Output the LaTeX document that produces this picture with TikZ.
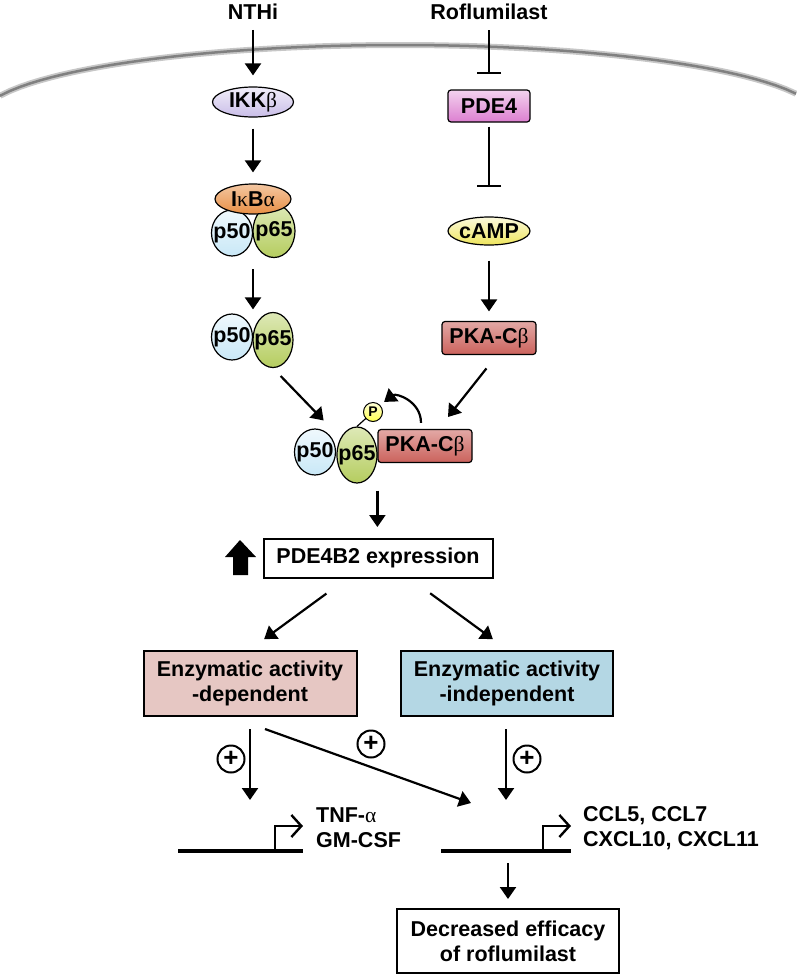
\documentclass[tikz,border=0pt]{standalone}
\usepackage{fontspec}
\setmainfont{Liberation Sans}
\newfontfamily\greekfont{Liberation Serif}
\usetikzlibrary{positioning, arrows.meta, shapes.geometric}
\newcommand{\gr}[1]{{\mdseries\greekfont #1}}
\definecolor{ikkcol}{HTML}{C9BDE8}
\definecolor{ikbcol}{HTML}{E88F45}
\definecolor{pfcol}{HTML}{C9E8F7}
\definecolor{pscol}{HTML}{B5CD5F}
\definecolor{pdecol}{HTML}{DC7FD0}
\definecolor{campcol}{HTML}{EEE55C}
\definecolor{pkacol}{HTML}{CB625C}
\definecolor{depcol}{HTML}{E6C7C3}
\definecolor{indepcol}{HTML}{B4D7E4}
\tikzset{tag/.style={inner sep=0pt},
  prot oval/.style={ellipse, draw, line width=1.2pt, inner sep=0pt},
  prot box/.style={rectangle, rounded corners=3pt, draw, line width=1.2pt, inner sep=0pt},
  plain box/.style={rectangle, draw, line width=2pt, inner sep=0pt, align=center},
  act/.style={-{Triangle[length=12pt,width=16pt]}, line width=2.2pt},
  inh/.style={-{Bar[width=24pt]}, line width=2.2pt},
  plus node/.style={circle, draw, line width=2pt, minimum size=27pt, inner sep=0pt, font=\fontsize{26}{26}\selectfont\bfseries},
  gene/.style={line width=4pt},
  prom/.style={-{Straight Barb[length=10pt,width=22pt]}, line width=2.4pt},}

\begin{document}
\begin{tikzpicture}[x=1pt, y=-1pt, font=\fontsize{21.5}{25}\selectfont\bfseries]
        \useasboundingbox (0,0) rectangle (796,975);
        % Membrane
        \draw[line width=6pt, black!22] plot[domain=-400:396, samples=80] ({400+\x}, {118-73*sqrt(1-(\x/420)^2)});
        \draw[line width=2.5pt, black!50] plot[domain=-400:396, samples=80] ({400+\x}, {118-73*sqrt(1-(\x/420)^2)});
        % Stimuli
        \node[tag] (nthi) at (253,12) {NTHi};
        \node[tag] (rofl) at (489,12) {Roflumilast};
        % NF-kB branch
        \node[prot oval, top color=ikkcol!25, bottom color=ikkcol, minimum width=81pt, minimum height=30pt] (ikk) at (253,102) {\makebox[0pt]{IKK\gr{β}}};
        \node[prot oval, top color=pfcol!30, bottom color=pfcol, minimum width=41pt, minimum height=46pt] (pfa) at (232,233) {\makebox[0pt]{p50}};
        \node[prot oval, top color=pscol!45, bottom color=pscol, minimum width=42pt, minimum height=53pt] (psa) at (274,231) {\makebox[0pt]{p65}};
        \node[prot oval, top color=ikbcol!50, bottom color=ikbcol, minimum width=76pt, minimum height=30pt] (ikba) at (253,199) {\makebox[0pt]{I\gr{κ}B\gr{α}}};
        \node[prot oval, top color=pfcol!30, bottom color=pfcol, minimum width=41pt, minimum height=46pt] (pfb) at (232,337) {\makebox[0pt]{p50}};
        \node[prot oval, top color=pscol!45, bottom color=pscol, minimum width=40pt, minimum height=55pt] (psb) at (273,340) {\makebox[0pt]{p65}};
        % cAMP branch
        \node[prot box, top color=pdecol!35, bottom color=pdecol, minimum width=82pt, minimum height=32pt] (pde) at (489,106) {PDE4};
        \node[prot oval, top color=campcol!20, bottom color=campcol, minimum width=82pt, minimum height=28pt] (camp) at (489,231) {\makebox[0pt]{cAMP}};
        \node[prot box, top color=pkacol!55, bottom color=pkacol, minimum width=94pt, minimum height=33pt] (pka) at (489,338) {PKA-C\gr{β}};
        % Complex
        \node[prot oval, top color=pfcol!30, bottom color=pfcol, minimum width=41pt, minimum height=46pt] (pfc) at (315,452) {\makebox[0pt]{p50}};
        \node[prot oval, top color=pscol!45, bottom color=pscol, minimum width=40pt, minimum height=56pt] (psc) at (357,455) {\makebox[0pt]{p65}};
        \node[prot box, top color=pkacol!55, bottom color=pkacol, minimum width=94pt, minimum height=33pt] (pkc) at (425,446) {PKA-C\gr{β}};
        \draw[line width=1.2pt] (373,412) -- (psc.north);
        \node[circle, draw, line width=1pt, top color=yellow!15, bottom color=yellow!70, minimum size=19pt, inner sep=0pt, font=\fontsize{14}{14}\selectfont\bfseries] (phos) at (373,412) {P};
        % Lower part
        \node[plain box, minimum width=229pt, minimum height=39pt] (expr) at (378,558) {PDE4B2 expression};
        \fill (240,540) -- (256,557) -- (248,557) -- (248,575) -- (233,575) -- (233,557) -- (225,557) -- cycle;
        \node[plain box, fill=depcol, minimum width=213pt, minimum height=65pt] (dep) at (250,683) {Enzymatic activity\\-dependent};
        \node[plain box, fill=indepcol, minimum width=212pt, minimum height=65pt] (indep) at (507,683) {Enzymatic activity\\-independent};
        \node[plus node] (pla) at (231,759) {+};
        \node[plus node] (plb) at (371,744) {+};
        \node[plus node] (plc) at (527,759) {+};
        \coordinate (tnfin) at (250,800);
        \coordinate (crossin) at (471,803);
        \coordinate (cclin) at (506,800);
        \coordinate (genb) at (508,851);
        % Genes
        \draw[gene] (178,851) -- (303,851);
        \draw[prom] (275,851) -- (275,826) -- (303,826);
        \draw[gene] (441,851) -- (571,851);
        \draw[prom] (543,851) -- (543,826) -- (571,826);
        \node[tag, anchor=west, align=left] (tnf) at (316,828) {TNF-\gr{α}\\GM-CSF};
        \node[tag, anchor=west, align=left] (ccl) at (583,828) {CCL5, CCL7\\CXCL10, CXCL11};
        \node[plain box, minimum width=222pt, minimum height=64pt] (dec) at (508,941) {Decreased efficacy\\of roflumilast};
        % Paths
        \draw[act, shorten <=10pt, shorten >=11pt] (nthi.south) -- (ikk.north);
        \draw[act, shorten <=11pt, shorten >=11pt] (ikk.south) -- (ikba.north);
        \draw[act, shorten <=11pt, shorten >=2.5pt] (psa.south -| ikk.south) -- (psb.north -| ikk.south);
        \draw[inh, shorten <=10pt, shorten >=15pt] (rofl.south) -- (pde.north);
        \draw[inh, shorten <=4pt, shorten >=29pt] (pde.south) -- (camp.north);
        \draw[act, shorten <=15pt, shorten >=9.5pt] (camp.south) -- (pka.north);
        \draw[act, shorten <=11pt, shorten >=48pt] (psb.south) -- (psc.center);
        \draw[act, shorten <=17pt, shorten >=37pt] ([xshift=8pt]pka.south) -- (pkc.center);
        \draw[act, shorten <=6pt, shorten >=5pt] ([xshift=-4pt]pkc.north) .. controls +(0,-28) and +(16,-12) .. (phos.north east);
        \draw[act, shorten <=27.5pt, shorten >=10.5pt] (pkc.south west) -- (pkc.south west |- expr.north);
        \draw[act, shorten <=25.5pt, shorten >=17.5pt] ([xshift=-31pt]expr.south) -- (dep.north);
        \draw[act, shorten <=25pt, shorten >=17.5pt] ([xshift=32pt]expr.south) -- (indep.north);
        \draw[act, shorten <=12.5pt] (dep.south) -- (tnfin);
        \draw[act] ([shift={(15,12.5)}]dep.south) -- (crossin);
        \draw[act, shorten <=12.5pt] (indep.south -| cclin) -- (cclin);
        \draw[act, shorten <=12pt, shorten >=9pt] (genb) -- (dec.north);
    \end{tikzpicture}
\end{document}
